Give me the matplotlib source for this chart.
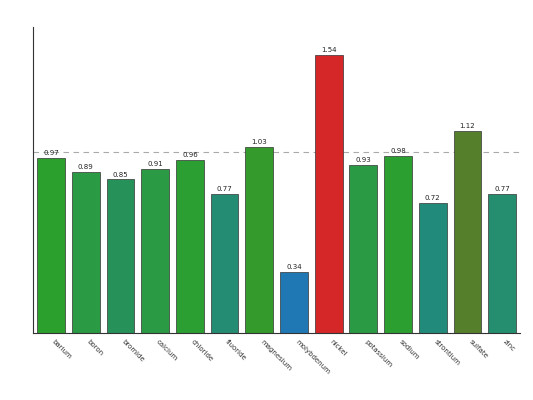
import matplotlib
matplotlib.use("Agg")
import matplotlib.pyplot as plt

elemente = ["barium", "boron", "bromide", "calcium", "chloride", "fluoride", "magnesium",
            "molybdenum", "nickel", "potassium", "sodium", "strontium", "sulfate", "zinc"]
werte = [0.97, 0.89, 0.85, 0.91, 0.96, 0.77, 1.03, 0.34, 1.54, 0.93, 0.98, 0.72, 1.12, 0.77]
farben = ["#2ca02c", "#2a9a44", "#26925a", "#2a9a45", "#2c9f32", "#248c72", "#349a2c",
          "#1f77b4", "#d62728", "#2a9a44", "#2c9f31", "#228a7a", "#567f2b", "#248e6e"]
referenz = 1.0

fig = plt.figure(figsize=(5.33, 4.0), dpi=100)
ax = fig.add_axes([0.062, 0.1675, 0.914, 0.765])

x = list(range(len(elemente)))
balken = ax.bar(x, werte, width=0.8, color=farben, edgecolor="#333333", linewidth=0.5)
for b, w in zip(balken, werte):
    ax.text(b.get_x() + b.get_width() / 2, w + 0.01, f"{w:.2f}", ha="center", va="bottom",
            fontsize=5, color="#222222")

ax.axhline(referenz, color="#aaaaaa", linestyle=(0, (5, 4)), linewidth=0.8, zorder=0)

ax.set_xlim(-0.52, 13.52)
ax.set_ylim(0, max(werte) * 1.1)
ax.set_xticks(x)
ax.set_xticklabels(elemente, rotation=-45, ha="left", fontsize=5, color="#333333")
ax.tick_params(axis="x", length=0, pad=4)
ax.set_yticks([])
for s in ["top", "right"]:
    ax.spines[s].set_visible(False)
ax.spines["left"].set_color("#333333")
ax.spines["bottom"].set_color("#333333")

fig.savefig("out.png", dpi=100)
